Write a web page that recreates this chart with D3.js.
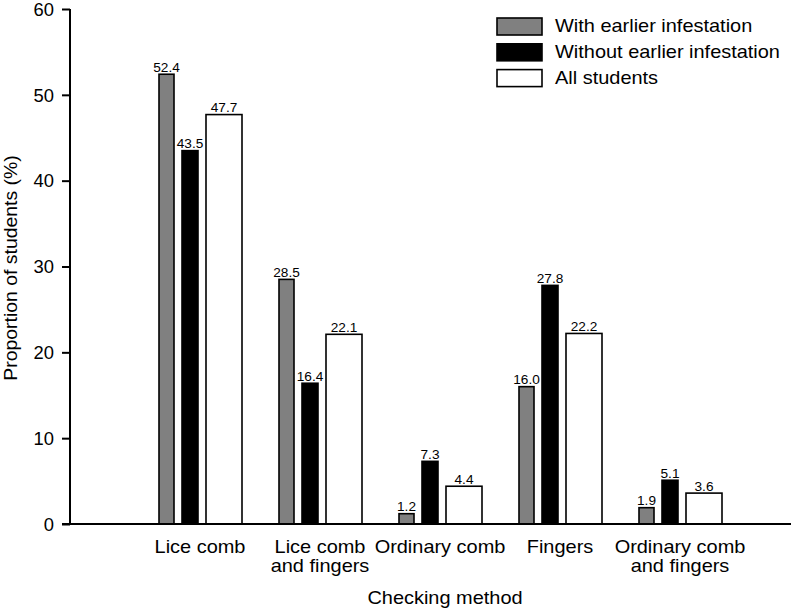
<!DOCTYPE html>
<html><head><meta charset="utf-8">
<script src="https://cdn.jsdelivr.net/npm/d3@7"></script>
<style>body{margin:0;background:#fff}svg{display:block}text{font-family:"Liberation Sans",Arial,sans-serif;fill:#000}</style>
</head><body>
<svg id="c" width="791" height="610"></svg>
<script>
const categories = [["Lice comb"], ["Lice comb", "and fingers"], ["Ordinary comb"], ["Fingers"], ["Ordinary comb", "and fingers"]];
const seriesNames = ["With earlier infestation", "Without earlier infestation", "All students"];
const withEarlier = [52.4, 28.5, 1.2, 16.0, 1.9];
const withoutEarlier = [43.5, 16.4, 7.3, 27.8, 5.1];
const allStudents = [47.7, 22.1, 4.4, 22.2, 3.6];
const yTicks = [0, 10, 20, 30, 40, 50, 60];
const seriesColors = ["#808080", "#000000", "#ffffff"];

const SX = 1.05; // slight horizontal stretch of the reference's typeface
const svg = d3.select("#c");
function stext(parent, x, y, str, size, anchor, rot) {
  const g = parent.append("g").attr("transform", `translate(${x},${y})` + (rot ? ` rotate(${rot})` : "") + ` scale(${SX},1)`);
  return g.append("text").attr("font-size", size).attr("text-anchor", anchor || "start").text(str);
}

const catKeys = categories.map(c => c.join(" "));
const x0 = d3.scaleBand().domain(catKeys).range([140, 740]).padding(0);
const y = d3.scaleLinear().domain([0, 60]).range([524, 9]);
// within-group layout: [start offset, width] in px inside each band
const inner = d3.scaleOrdinal().domain(seriesNames).range([[19, 15], [42, 16], [66, 36]]);
const values = [withEarlier, withoutEarlier, allStudents];

// bars
seriesNames.forEach((s, si) => {
  const g = svg.append("g");
  g.selectAll("rect").data(values[si]).join("rect")
    .attr("x", (d, i) => x0(catKeys[i]) + inner(s)[0])
    .attr("width", inner(s)[1])
    .attr("y", d => y(d))
    .attr("height", d => y(0) - y(d))
    .attr("fill", seriesColors[si])
    .attr("stroke", "#000").attr("stroke-width", 1.6);
  values[si].forEach((d, i) => {
    stext(g, x0(catKeys[i]) + inner(s)[0] + inner(s)[1] / 2, y(d) - 2.5, d.toFixed(1), 13, "middle");
  });
});

// y axis
const yAxis = svg.append("g").attr("transform", "translate(70,0)")
  .call(d3.axisLeft(y).tickValues(yTicks).tickSize(8).tickPadding(8).tickFormat(d3.format("d")));
yAxis.select(".domain").attr("stroke-width", 2).attr("d", "M0," + y(60) + "V" + y(0));
yAxis.selectAll(".tick line").attr("stroke-width", 2);
yAxis.selectAll(".tick text").attr("font-size", 17.5).attr("font-family", "Liberation Sans, Arial, sans-serif")
  .attr("x", -16 / SX).attr("dy", "0.36em").attr("transform", `scale(${SX},1)`);

// x axis line
svg.append("line").attr("x1", 62).attr("x2", 791).attr("y1", y(0)).attr("y2", y(0))
  .attr("stroke", "#000").attr("stroke-width", 2);

// category labels
categories.forEach((lines, i) => {
  const cx = x0(catKeys[i]) + x0.bandwidth() / 2;
  lines.forEach((l, j) => stext(svg, cx, 552.5 + j * 19.5, l, 19, "middle"));
});

// axis titles
stext(svg, 445, 604, "Checking method", 19, "middle");
const yt = svg.append("g").attr("transform", `translate(17,268) rotate(-90) scale(${SX},1)`);
yt.append("text").attr("font-size", 18.5).attr("text-anchor", "middle").text("Proportion of students (%)");

// legend
const leg = svg.append("g");
seriesNames.forEach((s, i) => {
  const cy = 26.5 + i * 25.8;
  leg.append("rect").attr("x", 497).attr("y", cy - 8.5).attr("width", 45).attr("height", 17)
    .attr("fill", seriesColors[i]).attr("stroke", "#000").attr("stroke-width", 1.6);
  stext(leg, 555, cy + 5.5, s, 19, "start");
});
</script>
</body></html>
